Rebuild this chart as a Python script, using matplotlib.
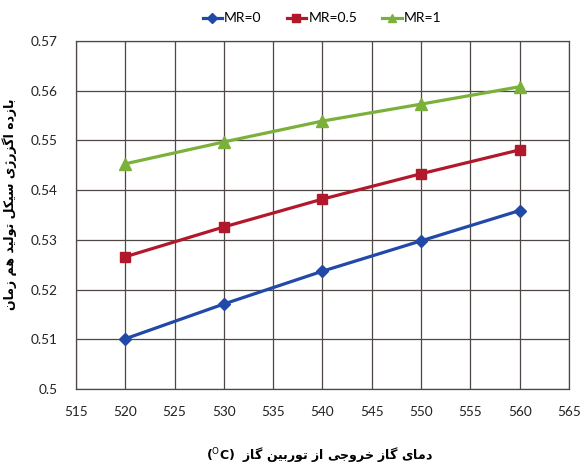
import matplotlib
matplotlib.use("Agg")
import matplotlib.pyplot as plt

# ---------------- data ----------------
temps = [520, 530, 540, 550, 560]
mr0 = [0.5101, 0.5171, 0.5237, 0.5298, 0.5359]
mr05 = [0.5266, 0.5326, 0.5382, 0.5433, 0.5481]
mr1 = [0.5453, 0.5497, 0.5539, 0.5573, 0.5608]
series_labels = ["MR=0", "MR=0.5", "MR=1"]
x_ticks = list(range(515, 566, 5))
y_ticks = [0.50, 0.51, 0.52, 0.53, 0.54, 0.55, 0.56, 0.57]
y_tick_labels = ["0.5", "0.51", "0.52", "0.53", "0.54", "0.55", "0.56", "0.57"]
y_label_fa = "بازده اگزرژی سیکل تولید هم زمان"
x_label_fa = "دمای گاز خروجی از توربین گاز"

# ---------- simple Persian shaping (presentation forms) ----------
FORMS = {  # isolated, final, initial, medial
    "ا": ("\uFE8D", "\uFE8E", None, None),
    "ب": ("\uFE8F", "\uFE90", "\uFE91", "\uFE92"),
    "ت": ("\uFE95", "\uFE96", "\uFE97", "\uFE98"),
    "ج": ("\uFE9D", "\uFE9E", "\uFE9F", "\uFEA0"),
    "خ": ("\uFEA5", "\uFEA6", "\uFEA7", "\uFEA8"),
    "د": ("\uFEA9", "\uFEAA", None, None),
    "ر": ("\uFEAD", "\uFEAE", None, None),
    "ز": ("\uFEAF", "\uFEB0", None, None),
    "ژ": ("\uFB8A", "\uFB8B", None, None),
    "س": ("\uFEB1", "\uFEB2", "\uFEB3", "\uFEB4"),
    "ل": ("\uFEDD", "\uFEDE", "\uFEDF", "\uFEE0"),
    "م": ("\uFEE1", "\uFEE2", "\uFEE3", "\uFEE4"),
    "ن": ("\uFEE5", "\uFEE6", "\uFEE7", "\uFEE8"),
    "ه": ("\uFEE9", "\uFEEA", "\uFEEB", "\uFEEC"),
    "و": ("\uFEED", "\uFEEE", None, None),
    "ک": ("\uFB8E", "\uFB8F", "\uFB90", "\uFB91"),
    "گ": ("\uFB92", "\uFB93", "\uFB94", "\uFB95"),
    "ی": ("\uFBFC", "\uFBFD", "\uFBFE", "\uFBFF"),
}


def shape_word(w):
    out = []
    n = len(w)
    for i, c in enumerate(w):
        f = FORMS.get(c)
        if f is None:
            out.append(c)
            continue
        prev = FORMS.get(w[i - 1]) if i > 0 else None
        nxt = FORMS.get(w[i + 1]) if i < n - 1 else None
        join_prev = prev is not None and prev[2] is not None
        join_next = nxt is not None and f[2] is not None
        if join_prev and join_next:
            out.append(f[3])
        elif join_prev:
            out.append(f[1])
        elif join_next:
            out.append(f[2])
        else:
            out.append(f[0])
    return "".join(out)


def visual(text):
    words = text.split(" ")
    return " ".join(shape_word(w)[::-1] for w in words[::-1])


# ---------------- figure ----------------
fig = plt.figure(figsize=(5.88, 4.67), dpi=100)
ax = fig.add_axes([76 / 588, 1 - 389 / 467, (569 - 76) / 588, (389 - 41) / 467])

colors = ["#2049A8", "#B2182B", "#7BB03A"]
markers = ["D", "s", "^"]
msizes = [6.5, 7.5, 8]
for ys, lab, c, m, ms in zip([mr0, mr05, mr1], series_labels, colors, markers, msizes):
    ax.plot(temps, ys, color=c, lw=2.3, marker=m, ms=ms, mec=c, mfc=c, label=lab, zorder=3)

ax.set_xlim(515, 565)
ax.set_ylim(0.50, 0.57)
ax.set_xticks(x_ticks)
ax.set_xticklabels([str(t) for t in x_ticks])
ax.set_yticks(y_ticks)
ax.set_yticklabels(y_tick_labels)
ax.grid(True, color="#4f4646", lw=0.9, zorder=0)
for s in ax.spines.values():
    s.set_color("#4f4646")
    s.set_linewidth(0.9)
ax.tick_params(length=0, labelsize=9.8, colors="#222222")
ax.tick_params(axis="x", pad=12)
ax.tick_params(axis="y", pad=13)
for lbl in ax.get_xticklabels() + ax.get_yticklabels():
    lbl.set_family("Lato")

ax.set_ylabel(visual(y_label_fa), fontsize=9, fontweight="bold", family="DejaVu Sans")
ax.yaxis.set_label_coords((17 - 76) / 493, (389 - 204) / 348)
ax.set_xlabel("(" + r"$^{\mathrm{O}}$" + "C)  " + visual(x_label_fa), fontsize=9,
              fontweight="bold", family="DejaVu Sans")
ax.xaxis.set_label_coords((320 - 76) / 493, (389 - 445) / 348)

leg = fig.legend(loc="upper center", bbox_to_anchor=(322 / 588, 1.0), ncol=3, frameon=False,
                 handlelength=1.4, columnspacing=1.8, handletextpad=0.15, markerscale=0.75,
                 prop={"family": "Lato", "size": 10})
fig.savefig("out.png", dpi=100, facecolor="white")
